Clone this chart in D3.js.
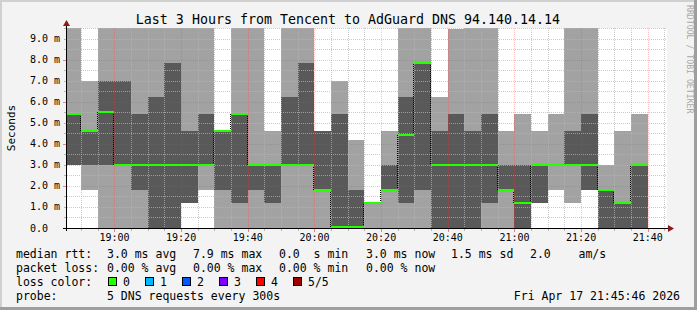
<!DOCTYPE html>
<html>
<head>
<meta charset="utf-8">
<script src="https://cdn.jsdelivr.net/npm/d3@7"></script>
<style>
  body { margin: 0; background: #f3f3f3; }
  svg { display: block; }
  text { font-family: "DejaVu Sans Mono", monospace; }
</style>
</head>
<body>
<script>
// ---- data (ms), one entry per 5 minute step, time = end of step ----
var slotEnd = ["18:50","18:55","19:00","19:05","19:10","19:15","19:20","19:25","19:30","19:35",
               "19:40","19:45","19:50","19:55","20:00","20:05","20:10","20:15","20:20","20:25",
               "20:30","20:35","20:40","20:45","20:50","20:55","21:00","21:05","21:10","21:15",
               "21:20","21:25","21:30","21:35","21:40"];
// sorted pings 1..5, ping3 = median
var ping1 = [3.0,1.8,0,0,0,0,0,1.2,1.8,0, 0,0,0,0,0,0,0,0,0,0, 0,0,0,0,0,0,0,0,1.2,1.8, 1.2,1.8,0,0,0];
var ping2 = [3.0,3.0,3.0,3.0,1.8,0,0,1.2,3.0,1.8, 1.2,1.8,1.2,3.0,3.0,1.8,0,0,1.2,1.8, 1.2,1.8,0,0,0,1.2,1.8,0,1.2,3.0, 3.0,1.8,0,0,0];
var median = [5.4,4.6,5.5,3.0,3.0,3.0,3.0,3.0,3.0,4.6, 5.4,3.0,3.0,3.0,3.0,1.8,0.05,0.05,1.2,1.8, 4.4,7.85,3.0,3.0,3.0,3.0,1.8,1.2,3.0,3.0, 3.0,3.0,1.8,1.2,3.0];
var ping4 = [5.4,4.6,7.0,7.0,5.4,6.2,7.85,4.6,5.4,4.6, 5.4,3.0,3.0,6.2,7.85,4.6,5.4,1.8,1.2,3.0, 6.2,7.85,4.6,5.4,4.6,5.4,3.0,3.0,3.0,3.0, 4.6,5.4,1.8,1.2,3.0];
var ping5 = [9.5,7.0,9.5,9.5,9.5,9.5,9.5,9.5,9.5,4.6, 9.5,9.5,4.6,9.5,9.5,4.6,7.0,4.2,1.2,4.6, 9.5,9.5,6.2,9.45,9.5,9.5,4.6,5.4,4.6,5.4, 9.5,9.5,3.0,4.6,5.4];
var yTicks = [0,1,2,3,4,5,6,7,8,9];
var lossLabels = ["0","1","2","3","4","5/5"];
var lossColors = ["#26ff00","#00b8ff","#0059ff","#7e00ff","#ff0000","#a10000"];

var W = 697, H = 310;
var parse = d3.timeParse("%Y-%m-%d %H:%M:%S");
var tStart = parse("2026-04-17 18:45:46"), tEnd = parse("2026-04-17 21:45:46");
var x = d3.scaleTime().domain([tStart, tEnd]).range([67, 667]);
var y = d3.scaleLinear().domain([0, 9.5]).range([228, 28]);

var svg = d3.select("body").append("svg").attr("width", W).attr("height", H);

// frame
svg.append("rect").attr("width", W).attr("height", H).attr("fill", "#f3f3f3");
svg.append("rect").attr("x", 0).attr("y", 0).attr("width", W).attr("height", 2).attr("fill", "#d0d0d0");
svg.append("rect").attr("x", 0).attr("y", 0).attr("width", 2).attr("height", H).attr("fill", "#d0d0d0");
svg.append("rect").attr("x", 0).attr("y", H - 3).attr("width", W).attr("height", 3).attr("fill", "#9e9e9e");
svg.append("rect").attr("x", W - 3).attr("y", 0).attr("width", 3).attr("height", H).attr("fill", "#9e9e9e");

// plot canvas
svg.append("rect").attr("x", 67).attr("y", 28).attr("width", 600).attr("height", 200).attr("fill", "#ffffff");

var bars = slotEnd.map(function (s, i) {
  var t1 = parse("2026-04-17 " + s + ":00");
  var t0 = d3.timeMinute.offset(t1, -5);
  if (t0 < tStart) t0 = tStart;
  return { t0: t0, t1: t1, p1: ping1[i], p2: ping2[i], med: median[i], p4: ping4[i], p5: ping5[i] };
});

function clip(v) { return Math.min(v, 9.5); }

// smoke: outer band (ping1..ping5) then inner band (ping2..ping4)
var smoke = svg.append("g");
smoke.selectAll("rect.outer").data(bars).enter().append("rect")
  .attr("class", "outer")
  .attr("x", function (d) { return x(d.t0); })
  .attr("width", function (d) { return x(d.t1) - x(d.t0); })
  .attr("y", function (d) { return y(clip(d.p5)); })
  .attr("height", function (d) { return y(d.p1) - y(clip(d.p5)); })
  .attr("fill", "#a2a2a2").attr("shape-rendering", "crispEdges");
smoke.selectAll("rect.inner").data(bars).enter().append("rect")
  .attr("class", "inner")
  .attr("x", function (d) { return x(d.t0); })
  .attr("width", function (d) { return x(d.t1) - x(d.t0); })
  .attr("y", function (d) { return y(clip(d.p4)); })
  .attr("height", function (d) { return y(d.p2) - y(clip(d.p4)); })
  .attr("fill", "#595959").attr("shape-rendering", "crispEdges");

// grid
var grid = svg.append("g").attr("shape-rendering", "crispEdges");
var majorT = x.ticks(d3.timeMinute.every(20));
var minorT = x.ticks(d3.timeMinute.every(5)).filter(function (d) { return d.getMinutes() % 20 !== 0; });
var hMajor = [2, 4, 6, 8];
var hMinor = d3.range(0.5, 9.6, 0.5).filter(function (v) { return v % 2 !== 0; });
var minorCol = "rgba(181,181,181,0.72)", majorCol = "rgba(255,50,50,0.3)";
function pix(v) { return Math.round(v) + 0.5; }
grid.selectAll("line.vmin").data(minorT).enter().append("line")
  .attr("x1", function (d) { return pix(x(d)); })
  .attr("x2", function (d) { return pix(x(d)); })
  .attr("y1", 28).attr("y2", 228)
  .attr("stroke", minorCol).attr("stroke-dasharray", "1,1");
grid.selectAll("line.hmin").data(hMinor).enter().append("line")
  .attr("x1", 67).attr("x2", 667)
  .attr("y1", function (d) { return pix(y(d)); })
  .attr("y2", function (d) { return pix(y(d)); })
  .attr("stroke", minorCol).attr("stroke-dasharray", "1,1");
grid.selectAll("line.vmaj").data(majorT).enter().append("line")
  .attr("x1", function (d) { return pix(x(d)); })
  .attr("x2", function (d) { return pix(x(d)); })
  .attr("y1", 28).attr("y2", 228)
  .attr("stroke", majorCol).attr("stroke-dasharray", "1,1");
grid.selectAll("line.hmaj").data(hMajor).enter().append("line")
  .attr("x1", 67).attr("x2", 667)
  .attr("y1", function (d) { return pix(y(d)); })
  .attr("y2", function (d) { return pix(y(d)); })
  .attr("stroke", majorCol).attr("stroke-dasharray", "1,1");

// median: dotted steps between slots, then loss coloured segments
var med = svg.append("g");
var steps = bars.slice(1).map(function (d, i) { return { t: d.t0, a: bars[i].med, b: d.med }; })
  .filter(function (s) { return s.a !== s.b; });
med.selectAll("line.step").data(steps).enter().append("line")
  .attr("x1", function (d) { return Math.round(x(d.t)) - 0.5; })
  .attr("x2", function (d) { return Math.round(x(d.t)) - 0.5; })
  .attr("y1", function (d) { return y(d.a); })
  .attr("y2", function (d) { return y(d.b); })
  .attr("stroke", "#000").attr("stroke-dasharray", "1,1").attr("shape-rendering", "crispEdges");
med.selectAll("rect.med").data(bars).enter().append("rect")
  .attr("x", function (d) { return x(d.t0); })
  .attr("width", function (d) { return x(d.t1) - x(d.t0); })
  .attr("y", function (d) { return Math.min(y(d.med) - 1, 226); })
  .attr("height", 2)
  .attr("fill", lossColors[0]).attr("shape-rendering", "crispEdges");

// axes
var ax = svg.append("g").attr("shape-rendering", "crispEdges");
ax.selectAll("line.xtmin").data(minorT).enter().append("line")
  .attr("x1", function (d) { return pix(x(d)); })
  .attr("x2", function (d) { return pix(x(d)); })
  .attr("y1", 229).attr("y2", 231).attr("stroke", "#b5b5b5");
ax.selectAll("line.xtmaj").data(majorT).enter().append("line")
  .attr("x1", function (d) { return pix(x(d)); })
  .attr("x2", function (d) { return pix(x(d)); })
  .attr("y1", 229).attr("y2", 232).attr("stroke", "#f08080");
ax.selectAll("line.ytmin").data(hMinor).enter().append("line")
  .attr("x1", 64).attr("x2", 67)
  .attr("y1", function (d) { return pix(y(d)); })
  .attr("y2", function (d) { return pix(y(d)); })
  .attr("stroke", "#b5b5b5");
ax.selectAll("line.ytmaj").data(hMajor.concat([0])).enter().append("line")
  .attr("x1", 63).attr("x2", 67)
  .attr("y1", function (d) { return pix(y(d)); })
  .attr("y2", function (d) { return pix(y(d)); })
  .attr("stroke", "#f08080");
ax.append("line").attr("x1", 63).attr("x2", 670).attr("y1", 228.5).attr("y2", 228.5).attr("stroke", "#000");
ax.append("line").attr("x1", 66.5).attr("x2", 66.5).attr("y1", 231).attr("y2", 25).attr("stroke", "#000");
svg.append("path").attr("d", "M668,225 L674,228.5 L668,232 Z").attr("fill", "#8b1a1a");
svg.append("path").attr("d", "M63,26 L66.5,20 L70,26 Z").attr("fill", "#8b1a1a");

// tick labels
var fmt = d3.timeFormat("%H:%M");
svg.append("g").selectAll("text").data(majorT).enter().append("text")
  .attr("x", function (d) { return x(d); }).attr("y", 241)
  .attr("text-anchor", "middle").attr("font-size", "10px").attr("fill", "#000")
  .text(function (d) { return fmt(d); });
svg.append("g").selectAll("text").data(yTicks).enter().append("text")
  .attr("x", 60).attr("y", function (d) { return y(d) + 3.5; })
  .attr("text-anchor", "end").attr("font-size", "10px").attr("fill", "#000")
  .attr("xml:space", "preserve")
  .text(function (d) { return d === 0 ? "0.0  " : d.toFixed(1) + " m"; });

// titles
svg.append("text").attr("x", 348).attr("y", 24).attr("text-anchor", "middle")
  .attr("font-size", "13.3px").attr("fill", "#000")
  .text("Last 3 Hours from Tencent to AdGuard DNS 94.140.14.14");
svg.append("text").attr("transform", "translate(15,128) rotate(-90)")
  .attr("text-anchor", "middle").attr("font-size", "11px").attr("fill", "#000")
  .text("Seconds");
svg.append("text").attr("transform", "translate(686.5,5) rotate(90)")
  .attr("font-size", "8.2px").attr("fill", "#a8a8a8")
  .text("RRDTOOL / TOBI OETIKER");

// legend
var leg = svg.append("g").attr("font-size", "11.5px").attr("fill", "#000");
function put(tx, ty, s) {
  leg.append("text").attr("x", tx).attr("y", ty).attr("xml:space", "preserve").text(s);
}
put(16, 258, "median rtt:");
put(107, 258, "3.0 ms avg");
put(193, 258, "7.9 ms max");
put(279, 258, "0.0  s min");
put(366, 258, "3.0 ms now");
put(451, 258, "1.5 ms sd");
put(530, 258, "2.0    am/s");
put(16, 272, "packet loss:");
put(107, 272, "0.00 % avg");
put(193, 272, "0.00 % max");
put(279, 272, "0.00 % min");
put(366, 272, "0.00 % now");
put(16, 286, "loss color:");
lossLabels.forEach(function (l, i) {
  var bx = 108 + i * 37;
  leg.append("rect").attr("x", bx + 0.5).attr("y", 277.5).attr("width", 8).attr("height", 8)
    .attr("fill", lossColors[i]).attr("stroke", "#000").attr("stroke-width", 1);
  put(bx + 15, 286, l);
});
put(16, 300, "probe:");
put(107, 300, "5 DNS requests every 300s");
leg.append("text").attr("x", 680).attr("y", 300).attr("text-anchor", "end").text("Fri Apr 17 21:45:46 2026");
</script>
</body>
</html>
